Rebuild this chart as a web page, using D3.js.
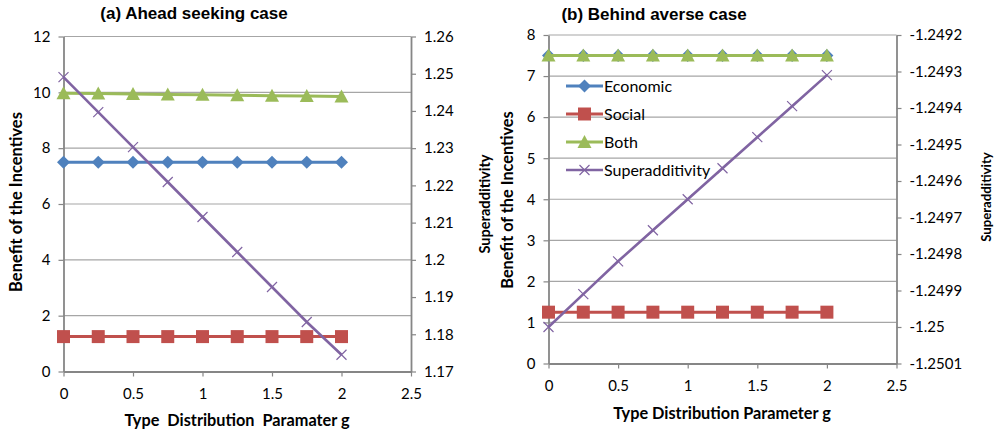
<!DOCTYPE html>
<html>
<head>
<meta charset="utf-8">
<script src="https://cdn.jsdelivr.net/npm/d3@7"></script>
<style>
  html, body { margin: 0; padding: 0; background: #fff; }
  svg { display: block; }
  .tick text { font-family: Lato, "Open Sans", sans-serif; font-size: 15px; fill: #000; }
</style>
</head>
<body>
<svg id="chart" width="995" height="436"></svg>
<script>
// Type distribution parameter g
const gValues = [0, 0.25, 0.5, 0.75, 1, 1.25, 1.5, 1.75, 2];

// (a) Ahead seeking case
const aheadEconomic = [7.5, 7.5, 7.5, 7.5, 7.5, 7.5, 7.5, 7.5, 7.5];
const aheadSocial = [1.25, 1.25, 1.25, 1.25, 1.25, 1.25, 1.25, 1.25, 1.25];
const aheadBoth = [9.97, 9.955, 9.94, 9.925, 9.91, 9.895, 9.88, 9.865, 9.85];
const aheadSuper = [1.2491, 1.2397, 1.2303, 1.2209, 1.2115, 1.2021, 1.1927, 1.1833, 1.1745];

// (b) Behind averse case
const behindEconomic = [7.5, 7.5, 7.5, 7.5, 7.5, 7.5, 7.5, 7.5, 7.5];
const behindSocial = [1.25, 1.25, 1.25, 1.25, 1.25, 1.25, 1.25, 1.25, 1.25];
const behindBoth = [7.5, 7.5, 7.5, 7.5, 7.5, 7.5, 7.5, 7.5, 7.5];
const behindSuper = [-1.25, -1.24991, -1.24982, -1.249735, -1.24965, -1.249565, -1.24948, -1.249395, -1.24931];

// Axis tick labels
const xTicks = [0, 0.5, 1, 1.5, 2, 2.5];
const aheadLeftTicks = [0, 2, 4, 6, 8, 10, 12];
const aheadRightTicks = [1.17, 1.18, 1.19, 1.2, 1.21, 1.22, 1.23, 1.24, 1.25, 1.26];
const behindLeftTicks = [0, 1, 2, 3, 4, 5, 6, 7, 8];
const behindRightTicks = [-1.2501, -1.25, -1.2499, -1.2498, -1.2497, -1.2496, -1.2495, -1.2494, -1.2493, -1.2492];

const seriesNames = ["Economic", "Social", "Both", "Superadditivity"];
const colors = { Economic: "#4f81bd", Social: "#c0504d", Both: "#9bbb59", Superadditivity: "#8064a2" };

const svg = d3.select("#chart");
const axisColor = "#868686";
const gridColor = "#a6a6a6";
const labelFont = "Lato, 'Open Sans', sans-serif";

function markerPath(name) {
  if (name === "Economic") return "M0,-6.5L6.5,0L0,6.5L-6.5,0Z";
  if (name === "Social") return "M-6.5,-6.5H6.5V6.5H-6.5Z";
  if (name === "Both") return "M0,-7L7,6L-7,6Z";
  return "M-5,-5L5,5M5,-5L-5,5";
}

function drawMarker(g, name, x, y) {
  const p = g.append("path")
    .attr("transform", `translate(${x},${y})`)
    .attr("d", markerPath(name));
  if (name === "Superadditivity") {
    p.attr("fill", "none").attr("stroke", colors[name]).attr("stroke-width", 1.2);
  } else {
    p.attr("fill", colors[name]);
  }
}

function axisTitle(x, y, text, size, rotate) {
  return svg.append("text")
    .attr("transform", `translate(${x},${y})` + (rotate ? " rotate(-90)" : ""))
    .attr("text-anchor", "middle")
    .attr("font-family", labelFont)
    .attr("font-weight", "bold").attr("font-size", size)
    .attr("xml:space", "preserve")
    .text(text);
}

function drawPanel(cfg) {
  const x = d3.scaleLinear().domain([0, 2.5]).range([cfg.left, cfg.right]);
  const yL = d3.scaleLinear().domain(cfg.leftDomain).range([cfg.bottom, cfg.top]);
  const yR = d3.scaleLinear().domain(cfg.rightDomain).range([cfg.bottom, cfg.top]);
  const g = svg.append("g");

  // horizontal gridlines
  g.append("g").selectAll("line").data(cfg.leftTicks.filter(d => d !== cfg.leftDomain[0]))
    .join("line")
    .attr("x1", cfg.left).attr("x2", cfg.right)
    .attr("y1", d => yL(d)).attr("y2", d => yL(d))
    .attr("stroke", gridColor).attr("stroke-width", 1.2);

  // axes
  const styleAxis = sel => {
    sel.select(".domain").attr("stroke", axisColor).attr("stroke-width", 1.8);
    sel.selectAll(".tick line").attr("stroke", axisColor).attr("stroke-width", 1.2);
  };
  g.append("g").attr("transform", `translate(${cfg.left},0)`)
    .call(d3.axisLeft(yL).tickValues(cfg.leftTicks).tickFormat(d3.format("")).tickSize(5).tickSizeOuter(0).tickPadding(8))
    .call(styleAxis);
  g.append("g").attr("transform", `translate(${cfg.right},0)`)
    .call(d3.axisRight(yR).tickValues(cfg.rightTicks).tickFormat(d => String(+d.toFixed(4))).tickSize(5).tickSizeOuter(0).tickPadding(8))
    .call(styleAxis);
  g.append("g").attr("transform", `translate(0,${cfg.bottom})`)
    .call(d3.axisBottom(x).tickValues(xTicks).tickFormat(d3.format("")).tickSize(5).tickSizeOuter(0).tickPadding(cfg.xPad))
    .call(styleAxis);

  // series lines and markers
  seriesNames.forEach(name => {
    const vals = cfg.series[name];
    const ys = name === "Superadditivity" ? yR : yL;
    const line = d3.line().x((d, i) => x(gValues[i])).y(d => ys(d));
    g.append("path").datum(vals)
      .attr("d", line)
      .attr("fill", "none")
      .attr("stroke", colors[name])
      .attr("stroke-width", name === "Superadditivity" ? 2.6 : 3);
    const mg = g.append("g");
    vals.forEach((v, i) => drawMarker(mg, name, x(gValues[i]), ys(v)));
  });

  // panel title
  svg.append("text")
    .attr("x", cfg.titleX).attr("y", cfg.titleY)
    .attr("text-anchor", "middle")
    .attr("font-family", "'Liberation Sans', Arial, sans-serif")
    .attr("font-weight", "bold").attr("font-size", 17)
    .text(cfg.title);

  axisTitle(cfg.leftTitleX, cfg.leftTitleY, "Benefit of the Incentives", cfg.leftTitleSize, true);
  axisTitle(cfg.rightTitleX, cfg.rightTitleY, "Superadditivity", cfg.rightTitleSize, true);
  axisTitle(cfg.xTitleX, cfg.xTitleY, cfg.xTitle, cfg.xTitleSize, false);

  return { x, yL, yR, g };
}

drawPanel({
  left: 63.5, right: 411, top: 36.5, bottom: 371.5,
  leftDomain: [0, 12], rightDomain: [1.17, 1.26],
  leftTicks: aheadLeftTicks, rightTicks: aheadRightTicks, xPad: 12,
  series: { Economic: aheadEconomic, Social: aheadSocial, Both: aheadBoth, Superadditivity: aheadSuper },
  title: "(a) Ahead seeking case", titleX: 194, titleY: 19,
  leftTitleX: 22, leftTitleY: 202, leftTitleSize: 16.5,
  rightTitleX: 490, rightTitleY: 204, rightTitleSize: 14.6,
  xTitle: "Type  Distribution  Paramater g", xTitleX: 237, xTitleY: 426, xTitleSize: 16.3
});

drawPanel({
  left: 548.5, right: 896.5, top: 35, bottom: 363.5,
  leftDomain: [0, 8], rightDomain: [-1.2501, -1.2492],
  leftTicks: behindLeftTicks, rightTicks: behindRightTicks, xPad: 12,
  series: { Economic: behindEconomic, Social: behindSocial, Both: behindBoth, Superadditivity: behindSuper },
  title: "(b) Behind averse case", titleX: 654, titleY: 20,
  leftTitleX: 513, leftTitleY: 200, leftTitleSize: 16.3,
  rightTitleX: 991, rightTitleY: 197, rightTitleSize: 13.2,
  xTitle: "Type Distribution Parameter g", xTitleX: 722, xTitleY: 419, xTitleSize: 16.3
});

// legend for panel (b)
const legend = svg.append("g");
seriesNames.forEach((name, i) => {
  const cy = 86 + i * 28;
  legend.append("line")
    .attr("x1", 566).attr("x2", 603).attr("y1", cy).attr("y2", cy)
    .attr("stroke", colors[name]).attr("stroke-width", name === "Superadditivity" ? 2.6 : 3);
  drawMarker(legend, name, 584.5, cy);
  legend.append("text")
    .attr("x", 604).attr("y", cy).attr("dy", "0.35em")
    .attr("font-family", labelFont)
    .attr("font-size", 16)
    .text(name);
});
</script>
</body>
</html>
